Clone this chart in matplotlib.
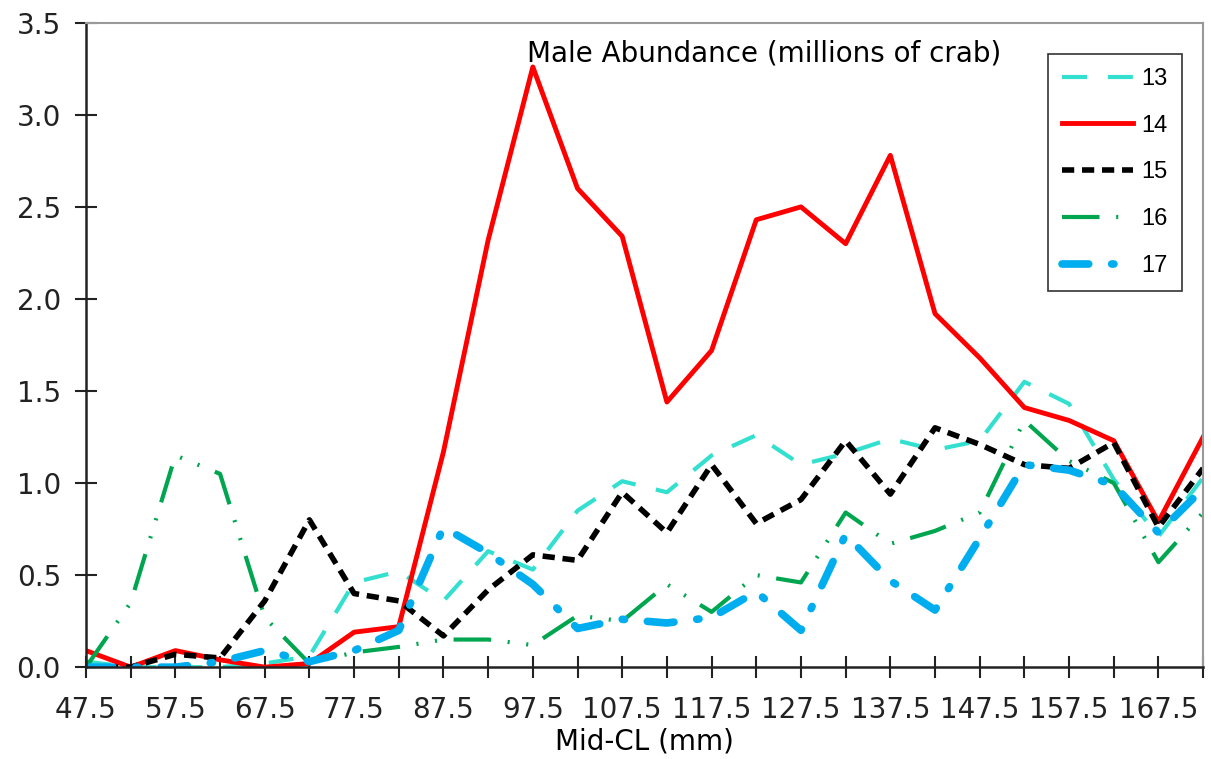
import numpy as np
import matplotlib.pyplot as plt

plt.rcParams['font.family'] = ['DejaVu Sans']

# Mid carapace length classes (mm)
mid_cl = [47.5, 52.5, 57.5, 62.5, 67.5, 72.5, 77.5, 82.5, 87.5, 92.5, 97.5, 102.5, 107.5,
          112.5, 117.5, 122.5, 127.5, 132.5, 137.5, 142.5, 147.5, 152.5, 157.5, 162.5,
          167.5, 172.5]

# Male abundance by year (millions of crab)
yr13 = [0.03, 0.00, 0.00, 0.00, 0.02, 0.06, 0.46, 0.52, 0.36, 0.63, 0.53, 0.85, 1.01,
        0.95, 1.15, 1.26, 1.10, 1.16, 1.24, 1.18, 1.23, 1.55, 1.43, 1.02, 0.71, 1.03]
yr14 = [0.09, 0.00, 0.09, 0.04, 0.00, 0.02, 0.19, 0.22, 1.17, 2.32, 3.26, 2.60, 2.34,
        1.44, 1.72, 2.43, 2.50, 2.30, 2.78, 1.92, 1.68, 1.41, 1.34, 1.23, 0.79, 1.25]
yr15 = [0.00, 0.00, 0.07, 0.05, 0.36, 0.80, 0.40, 0.36, 0.17, 0.42, 0.61, 0.58, 0.95,
        0.73, 1.10, 0.78, 0.91, 1.23, 0.94, 1.30, 1.21, 1.10, 1.08, 1.22, 0.76, 1.08]
yr16 = [0.00, 0.35, 1.15, 1.05, 0.27, 0.02, 0.08, 0.11, 0.15, 0.15, 0.12, 0.28, 0.25,
        0.45, 0.30, 0.50, 0.46, 0.84, 0.67, 0.74, 0.84, 1.34, 1.12, 1.00, 0.57, 0.84]
yr17 = [0.00, 0.00, 0.00, 0.03, 0.09, 0.03, 0.09, 0.20, 0.76, 0.62, 0.45, 0.21, 0.26,
        0.24, 0.27, 0.41, 0.20, 0.72, 0.47, 0.31, 0.70, 1.10, 1.07, 0.99, 0.73, 0.97]

fig = plt.figure(figsize=(12.11, 7.59), dpi=100)
ax = fig.add_axes([0.071, 0.121, 0.9225, 0.849])

ax.plot(mid_cl, yr13, color='#33E0D0', lw=3, dashes=(6, 5), label='13')
ax.plot(mid_cl, yr14, color='#FF0000', lw=3.5, label='14')
ax.plot(mid_cl, yr15, color='black', lw=4, dashes=(2.2, 1.4), label='15')
ax.plot(mid_cl, yr16, color='#00A64F', lw=3, dashes=(9, 4, 0.5, 4, 0.5, 4), label='16')
ax.plot(mid_cl, yr17, color='#00AEEF', lw=5.5, dashes=(3.5, 3, 0.3, 3),
        dash_capstyle='round', label='17')

ax.set_xlim(47.5, 172.5)
ax.set_ylim(0, 3.5)
ax.set_xticks(mid_cl)
ax.set_xticklabels([f'{v:g}' if i % 2 == 0 else '' for i, v in enumerate(mid_cl)])
ax.set_yticks(np.arange(0, 3.51, 0.5))
ax.yaxis.set_major_formatter(plt.FormatStrFormatter('%.1f'))
ax.tick_params(direction='inout', length=16, width=1.5, labelsize=20, colors='#222222')
ax.tick_params(axis='x', pad=13)
ax.tick_params(axis='y', pad=10)

for s in ['left', 'bottom']:
    ax.spines[s].set_linewidth(1.8)
    ax.spines[s].set_color('#222222')
for s in ['top', 'right']:
    ax.spines[s].set_linewidth(1.5)
    ax.spines[s].set_color('#999999')

ax.set_xlabel('Mid-CL (mm)', fontsize=20, labelpad=2)
ax.text(96.8, 3.29, 'Male Abundance (millions of crab)', fontsize=20, ha='left',
        va='baseline')

leg = ax.legend(loc='upper right', bbox_to_anchor=(0.9812, 0.952),
                prop={'family': 'Liberation Sans', 'size': 17},
                handlelength=3.0, handletextpad=0.35, labelspacing=1.05,
                borderpad=0.6, borderaxespad=0, fancybox=False,
                edgecolor='#333333', framealpha=1)
leg.get_frame().set_linewidth(1.2)

plt.savefig('out.png', dpi=100)
